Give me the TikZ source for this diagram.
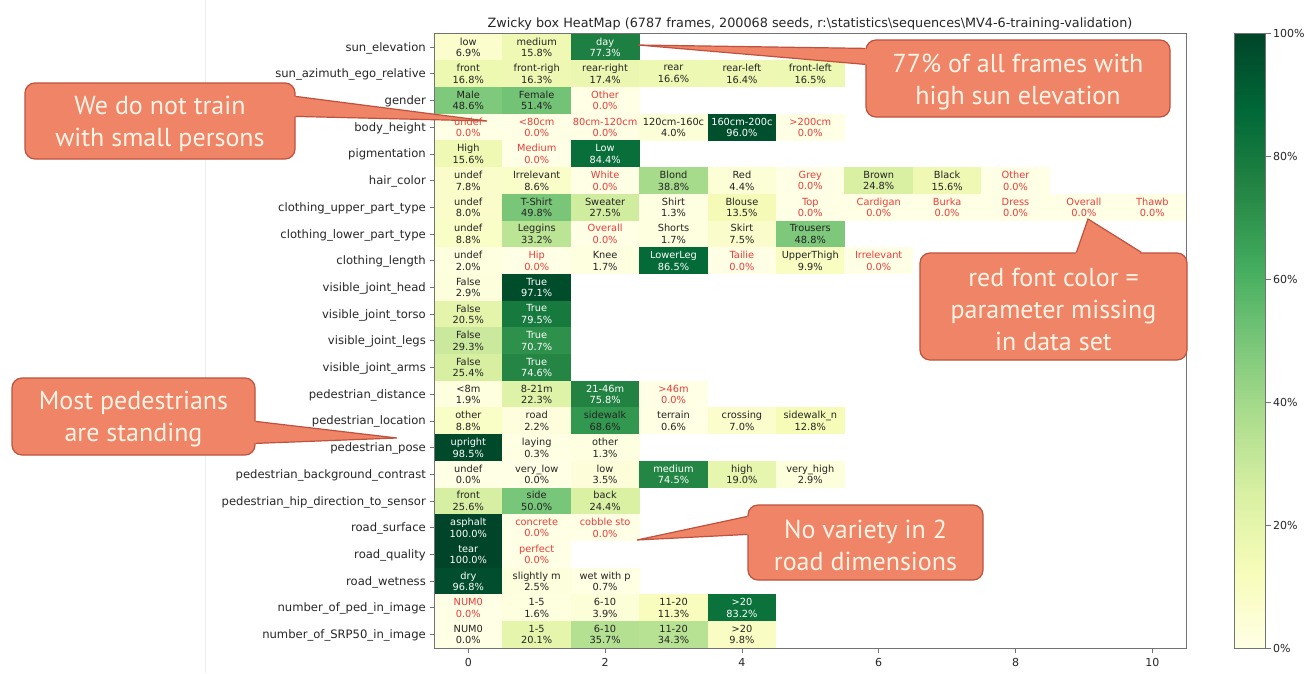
\documentclass[tikz,border=0pt]{standalone}
\usepackage{fontspec}
\setmainfont{DejaVu Sans}
\newfontfamily\calloutfont{PT Sans}
\usetikzlibrary{calc}

% YlGn colour ramp (0%, 12.5%, ..., 100%)
\definecolor{ylgn0}{RGB}{255,255,229}
\definecolor{ylgn1}{RGB}{247,252,185}
\definecolor{ylgn2}{RGB}{217,240,163}
\definecolor{ylgn3}{RGB}{173,221,142}
\definecolor{ylgn4}{RGB}{120,198,121}
\definecolor{ylgn5}{RGB}{65,171,93}
\definecolor{ylgn6}{RGB}{35,132,67}
\definecolor{ylgn7}{RGB}{0,104,55}
\definecolor{ylgn8}{RGB}{0,69,41}
\definecolor{missred}{RGB}{235,60,60}
\definecolor{celltext}{RGB}{35,35,35}
\definecolor{spine}{RGB}{115,115,115}
\definecolor{calloutfill}{RGB}{239,132,102}
\definecolor{calloutedge}{RGB}{190,82,62}
\definecolor{callouttext}{RGB}{255,243,230}

% sets colour "cc" to the YlGn value of a percentage
\newcommand\setylgn[1]{%
  \pgfmathtruncatemacro\ylgnk{min(floor((#1)/12.5),7)}%
  \pgfmathsetmacro\ylgnt{((#1)/12.5-\ylgnk)*100}%
  \pgfmathtruncatemacro\ylgnkk{\ylgnk+1}%
  \colorlet{cc}{ylgn\ylgnkk!\ylgnt!ylgn\ylgnk}}

% pointer of a callout box #1: base point #2, tip #3, base point #4
\newcommand\calloutwedge[4]{%
  \fill[calloutfill] (#3) -- (#2) -- (#1.center) -- (#4) -- cycle;
  \draw[calloutedge, line width=1.2pt, line join=miter] (#2) -- (#3) -- (#4);}

\begin{document}
\begin{tikzpicture}[x=1pt, y=-1pt,
  cellbox/.style={minimum width=68.8pt, minimum height=27.0pt, inner sep=0pt,
    outer sep=0pt, align=center, font=\fontsize{9.8}{11.5}\selectfont},
  ylabel/.style={anchor=base east, inner sep=0pt, text=black!85,
    font=\fontsize{11.6}{13}\selectfont},
  ticklabel/.style={inner sep=0pt, text=black!85, font=\fontsize{11}{13}\selectfont},
  calloutbox/.style={draw=calloutedge, fill=calloutfill, line width=1.2pt,
    rounded corners=10pt, inner sep=0pt},
  callouttxt/.style={text=callouttext, align=center, inner sep=0pt,
    font=\calloutfont\fontsize{26}{32}\selectfont}]

\useasboundingbox (0,0) rectangle (1307,673);
\fill[white] (0,0) rectangle (1307,673);
\draw[black!7, line width=0.8pt] (205,0) -- (205,673);

% title
\node[anchor=base, inner sep=0pt, text=black!85, font=\fontsize{12.8}{15}\selectfont] (title) at (810,27)
  {Zwicky box HeatMap (6787 frames, 200068 seeds, r:\textbackslash statistics\textbackslash sequences\textbackslash MV4-6-training-validation)};

% heat map rows: label / cells (text / percent / k = present, r = missing)
\foreach \ylab/\cells [count=\rowi from 0] in {
  {sun\_elevation}/{low/6.9/k,medium/15.8/k,day/77.3/k},
  {sun\_azimuth\_ego\_relative}/{front/16.8/k,front-righ/16.3/k,rear-right/17.4/k,rear/16.6/k,rear-left/16.4/k,front-left/16.5/k},
  {gender}/{Male/48.6/k,Female/51.4/k,Other/0.0/r},
  {body\_height}/{undef/0.0/r,<80cm/0.0/r,80cm-120cm/0.0/r,120cm-160c/4.0/k,160cm-200c/96.0/k,>200cm/0.0/r},
  {pigmentation}/{High/15.6/k,Medium/0.0/r,Low/84.4/k},
  {hair\_color}/{undef/7.8/k,Irrelevant/8.6/k,White/0.0/r,Blond/38.8/k,Red/4.4/k,Grey/0.0/r,Brown/24.8/k,Black/15.6/k,Other/0.0/r},
  {clothing\_upper\_part\_type}/{undef/8.0/k,T-Shirt/49.8/k,Sweater/27.5/k,Shirt/1.3/k,Blouse/13.5/k,Top/0.0/r,Cardigan/0.0/r,Burka/0.0/r,Dress/0.0/r,Overall/0.0/r,Thawb/0.0/r},
  {clothing\_lower\_part\_type}/{undef/8.8/k,Leggins/33.2/k,Overall/0.0/r,Shorts/1.7/k,Skirt/7.5/k,Trousers/48.8/k},
  {clothing\_length}/{undef/2.0/k,Hip/0.0/r,Knee/1.7/k,LowerLeg/86.5/k,Tailie/0.0/r,UpperThigh/9.9/k,Irrelevant/0.0/r},
  {visible\_joint\_head}/{False/2.9/k,True/97.1/k},
  {visible\_joint\_torso}/{False/20.5/k,True/79.5/k},
  {visible\_joint\_legs}/{False/29.3/k,True/70.7/k},
  {visible\_joint\_arms}/{False/25.4/k,True/74.6/k},
  {pedestrian\_distance}/{<8m/1.9/k,8-21m/22.3/k,21-46m/75.8/k,>46m/0.0/r},
  {pedestrian\_location}/{other/8.8/k,road/2.2/k,sidewalk/68.6/k,terrain/0.6/k,crossing/7.0/k,sidewalk\_n/12.8/k},
  {pedestrian\_pose}/{upright/98.5/k,laying/0.3/k,other/1.3/k},
  {pedestrian\_background\_contrast}/{undef/0.0/k,very\_low/0.0/k,low/3.5/k,medium/74.5/k,high/19.0/k,very\_high/2.9/k},
  {pedestrian\_hip\_direction\_to\_sensor}/{front/25.6/k,side/50.0/k,back/24.4/k},
  {road\_surface}/{asphalt/100.0/k,concrete/0.0/r,cobble sto/0.0/r},
  {road\_quality}/{tear/100.0/k,perfect/0.0/r},
  {road\_wetness}/{dry/96.8/k,slightly m/2.5/k,wet with p/0.7/k},
  {number\_of\_ped\_in\_image}/{NUM0/0.0/r,1-5/1.6/k,6-10/3.9/k,11-20/11.3/k,>20/83.2/k},
  {number\_of\_SRP50\_in\_image}/{NUM0/0.0/k,1-5/20.1/k,6-10/35.7/k,11-20/34.3/k,>20/9.8/k}%
}{
  \pgfmathsetmacro\yc{33.8+26.70*(\rowi+0.5)}
  \node[ylabel] (ylab-\rowi) at (426,\yc+4) {\ylab};
  \draw[spine, line width=0.8pt] (434,\yc) -- (429.5,\yc);
  \foreach \lab/\val/\flag [count=\coli from 0] in \cells {
    \setylgn{\val}
    \def\tc{celltext}
    \ifdim\val pt>70pt\def\tc{white}\fi
    \if r\flag\def\tc{missred}\fi
    \node[cellbox, fill=cc, text=\tc] (cell-\rowi-\coli) at ({468.3+68.4*\coli},\yc) {\lab\\\val\%};
  }
}

% axes frame and x ticks
\draw[spine, line width=1pt] (434.1,33.8) rectangle (1186.5,648);
\foreach \t in {0,2,...,10} {
  \draw[spine, line width=0.8pt] ({468.3+68.4*\t},648) -- ++(0,5);
  \node[ticklabel] (xt-\t) at ({468.3+68.4*\t},662) {\t};
}

% colour bar
\foreach \i in {0,...,199} {
  \setylgn{\i/2+0.25}
  \fill[cc] (1234,{648-\i*3.071-3.3}) rectangle (1265.5,{648-\i*3.071});
}
\draw[spine, line width=1pt] (1234,33.8) rectangle (1265.5,648);
\foreach \p in {0,20,...,100} {
  \pgfmathsetmacro\yy{648-6.142*\p}
  \draw[spine, line width=0.8pt] (1265.5,\yy) -- ++(5,0);
  \node[ticklabel, anchor=west] (cb-\p) at (1273,\yy) {\p\%};
}

% callouts: box, pointer, then text on top
\node[calloutbox, minimum width=304pt, minimum height=77pt] (sunnote) at (1018,78.5) {};
\coordinate (suntip) at (638,45);
\coordinate (sunA) at ($(sunnote.north west)+(0,9)$);
\coordinate (sunB) at ($(sunnote.north west)+(0,25)$);
\calloutwedge{sunnote}{sunA}{suntip}{sunB}
\node[callouttxt] (suntext) at ($(sunnote.center)+(0,3)$) {77\% of all frames with\\high sun elevation};

\node[calloutbox, minimum width=270pt, minimum height=76pt] (smallnote) at (160,121) {};
\coordinate (smalltip) at (487,121);
\coordinate (smallA) at ($(smallnote.north east)+(0,14)$);
\coordinate (smallB) at ($(smallnote.north east)+(0,34)$);
\calloutwedge{smallnote}{smallA}{smalltip}{smallB}
\node[callouttxt] (smalltext) at ($(smallnote.center)+(0,3)$) {We do not train\\with small persons};

\node[calloutbox, minimum width=267pt, minimum height=107pt] (rednote) at (1053.5,306.5) {};
\coordinate (redtip) at (1088,219);
\coordinate (redA) at ($(rednote.north west)+(157,0)$);
\coordinate (redB) at ($(rednote.north west)+(222,0)$);
\calloutwedge{rednote}{redA}{redtip}{redB}
\node[callouttxt] (redtext) at ($(rednote.center)+(0,3)$) {red font color =\\parameter missing\\in data set};

\node[calloutbox, minimum width=243pt, minimum height=77pt] (posenote) at (133.5,416.5) {};
\coordinate (posetip) at (397,438);
\coordinate (poseA) at ($(posenote.north east)+(0,44)$);
\coordinate (poseB) at ($(posenote.north east)+(0,66)$);
\calloutwedge{posenote}{poseA}{posetip}{poseB}
\node[callouttxt] (posetext) at ($(posenote.center)+(0,3)$) {Most pedestrians\\are standing};

\node[calloutbox, minimum width=235pt, minimum height=75pt] (roadnote) at (865.5,542.5) {};
\coordinate (roadtip) at (637,540);
\coordinate (roadA) at ($(roadnote.north west)+(0,12)$);
\coordinate (roadB) at ($(roadnote.north west)+(0,30)$);
\calloutwedge{roadnote}{roadA}{roadtip}{roadB}
\node[callouttxt] (roadtext) at ($(roadnote.center)+(0,3)$) {No variety in 2\\road dimensions};

\end{tikzpicture}
\end{document}
